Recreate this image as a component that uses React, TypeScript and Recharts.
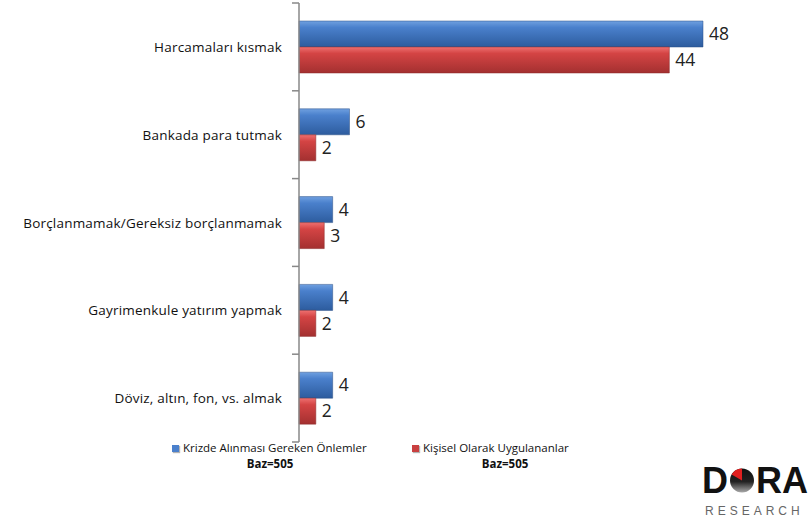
import { BarChart, Bar, XAxis, YAxis, LabelList } from 'recharts';

const categories = [
  'Harcamaları  kısmak',
  'Bankada para  tutmak',
  'Borçlanmamak/Gereksiz borçlanmamak',
  'Gayrimenkule yatırım yapmak',
  'Döviz, altın, fon, vs. almak',
];
const onlemler = [48, 6, 4, 4, 4];
const uygulananlar = [44, 2, 3, 2, 2];
const seriesNames = ['Krizde Alınması Gereken Önlemler', 'Kişisel Olarak Uygulananlar'];
const baseLabel = 'Baz=505';

const data = categories.map((name, i) => ({ name, a: onlemler[i], b: uygulananlar[i] }));

const FONT = '"Open Sans", "Noto Sans", sans-serif';
const LOGO_FONT = "'Liberation Sans', Arial, sans-serif";
const BAND = 439 / categories.length;

function CategoryTick(props: any) {
  const { x, y, payload, index } = props;
  return (
    <g>
      <text x={x - 17} y={y} textAnchor="end" dominantBaseline="central" fontSize={13.5} letterSpacing={0.2} fill="#111" fontFamily={FONT}>
        {payload.value}
      </text>
      {index === 0 && <line x1={x - 7} x2={x} y1={y - BAND / 2} y2={y - BAND / 2} stroke="#888" strokeWidth={1.5} />}
      <line x1={x - 7} x2={x} y1={y + BAND / 2} y2={y + BAND / 2} stroke="#888" strokeWidth={1.5} />
    </g>
  );
}

function LegendSwatch({ color }: { color: string }) {
  return (
    <span
      style={{
        display: 'inline-block',
        width: 7,
        height: 7,
        background: color,
        marginRight: 4,
        boxShadow: '1px 1px 1px rgba(0,0,0,0.3)',
        verticalAlign: 'middle',
      }}
    />
  );
}

export default function App() {
  return (
    <div style={{ position: 'absolute', left: 0, top: 0, width: 808, height: 524, background: '#fff', fontFamily: FONT, overflow: 'hidden' }}>
      <BarChart
        width={808}
        height={445}
        data={data}
        layout="vertical"
        margin={{ top: 3, right: 4, bottom: 3, left: 0 }}
        barCategoryGap={18}
        barGap={0}
      >
        <defs>
          <linearGradient id="gBlue" x1="0" y1="0" x2="0" y2="1">
            <stop offset="0%" stopColor="#6fa0e0" />
            <stop offset="25%" stopColor="#4a80cc" />
            <stop offset="100%" stopColor="#2d5c9e" />
          </linearGradient>
          <linearGradient id="gRed" x1="0" y1="0" x2="0" y2="1">
            <stop offset="0%" stopColor="#ee7070" />
            <stop offset="25%" stopColor="#d44444" />
            <stop offset="100%" stopColor="#a33030" />
          </linearGradient>
        </defs>
        <XAxis type="number" domain={[0, 60]} hide />
        <YAxis
          type="category"
          dataKey="name"
          width={299}
          axisLine={{ stroke: '#888', strokeWidth: 1.5 }}
          tickLine={false}
          tickSize={0}
          tickMargin={0}
          tick={<CategoryTick />}
          interval={0}
        />
        <Bar dataKey="a" fill="url(#gBlue)" stroke="#2a4f85" strokeWidth={0.5} isAnimationActive={false}>
          <LabelList dataKey="a" position="right" offset={6} fontSize={17.5} fill="#222" fontFamily={FONT} />
        </Bar>
        <Bar dataKey="b" fill="url(#gRed)" stroke="#8a2a2a" strokeWidth={0.5} isAnimationActive={false}>
          <LabelList dataKey="b" position="right" offset={6} fontSize={17.5} fill="#222" fontFamily={FONT} />
        </Bar>
      </BarChart>

      <div style={{ position: 'absolute', left: 172, top: 440, fontSize: 11.5, color: '#111', whiteSpace: 'nowrap' }}>
        <LegendSwatch color="#4a80cc" />
        {seriesNames[0]}
      </div>
      <div style={{ position: 'absolute', left: 220, width: 100, top: 456, textAlign: 'center', fontSize: 11.5, fontWeight: 700, color: '#111' }}>
        {baseLabel}
      </div>
      <div style={{ position: 'absolute', left: 412, top: 440, fontSize: 11.5, color: '#111', whiteSpace: 'nowrap' }}>
        <LegendSwatch color="#c94040" />
        {seriesNames[1]}
      </div>
      <div style={{ position: 'absolute', left: 455, width: 100, top: 456, textAlign: 'center', fontSize: 11.5, fontWeight: 700, color: '#111' }}>
        {baseLabel}
      </div>

      <svg style={{ position: 'absolute', left: 700, top: 455 }} width={108} height={69}>
        <defs>
          <linearGradient id="gLogo" x1="0" y1="0" x2="0" y2="1">
            <stop offset="0%" stopColor="#111" />
            <stop offset="55%" stopColor="#222" />
            <stop offset="100%" stopColor="#aaa" />
          </linearGradient>
        </defs>
        <text x={2} y={38} fontSize={36} fontWeight={700} fill="#111" fontFamily={LOGO_FONT}>D</text>
        <circle cx={42} cy={25.5} r={12} fill="url(#gLogo)" />
        <path d="M42 25.5 L31.6 19.5 A12 12 0 0 1 42 13.5 Z" fill="#e02020" />
        <text x={56} y={38} fontSize={36} fontWeight={700} fill="#111" fontFamily={LOGO_FONT}>RA</text>
        <text x={5} y={60} fontSize={12} letterSpacing={4} fill="#666" fontFamily={LOGO_FONT}>RESEARCH</text>
      </svg>
    </div>
  );
}
